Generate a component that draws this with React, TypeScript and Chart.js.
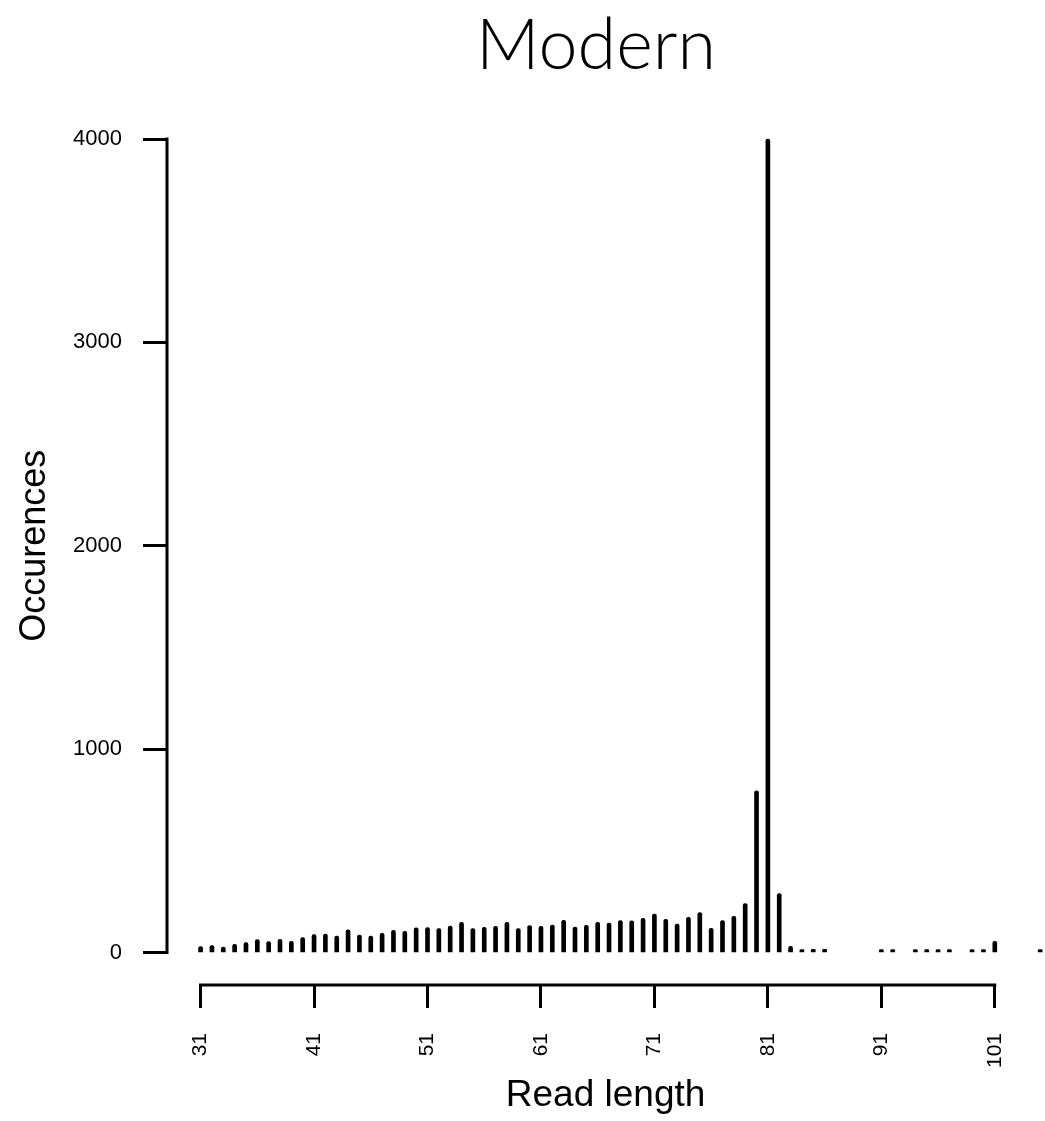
import React, { useEffect, useRef } from "react";
import { Chart, registerables } from "chart.js";

Chart.register(...registerables);

const readLengths: number[] = [
  31, 32, 33, 34, 35, 36, 37, 38, 39, 40,
  41, 42, 43, 44, 45, 46, 47, 48, 49, 50,
  51, 52, 53, 54, 55, 56, 57, 58, 59, 60,
  61, 62, 63, 64, 65, 66, 67, 68, 69, 70,
  71, 72, 73, 74, 75, 76, 77, 78, 79, 80,
  81, 82, 83, 84, 85, 86,
  91, 92, 94, 95, 96, 97, 99, 100, 101, 105,
];

const occurrences: number[] = [
  29, 34, 26, 40, 48, 63, 53, 65, 55, 73,
  88, 91, 81, 111, 85, 80, 94, 109, 104, 121,
  122, 117, 130, 148, 117, 124, 129, 148, 117, 132,
  129, 135, 158, 125, 134, 148, 145, 157, 155, 168,
  189, 163, 139, 173, 196, 119, 157, 178, 240, 795,
  4000, 290, 30, 8, 15, 15,
  5, 5, 5, 5, 5, 12, 5, 5, 55, 5,
];

const xTickValues: number[] = [31, 41, 51, 61, 71, 81, 91, 101];
const yTickValues: number[] = [0, 1000, 2000, 3000, 4000];

const titleText = "Modern";
const xTitle = "Read length";
const yTitle = "Occurences";

const W = 1045;
const H = 1121;

export default function App() {
  const canvasRef = useRef<HTMLCanvasElement | null>(null);

  useEffect(() => {
    if (!canvasRef.current) return;

    const axisLines = {
      id: "rAxisLines",
      afterDraw(chart: any) {
        const { ctx, chartArea, scales } = chart;
        const xs = scales.x;
        const ys = scales.y;
        ctx.save();
        ctx.strokeStyle = "#000";
        ctx.lineWidth = 3;
        ctx.lineCap = "square";
        ctx.beginPath();
        ctx.moveTo(chartArea.left, ys.getPixelForValue(yTickValues[0]));
        ctx.lineTo(chartArea.left, ys.getPixelForValue(yTickValues[yTickValues.length - 1]));
        ctx.moveTo(xs.getPixelForValue(xTickValues[0]), chartArea.bottom);
        ctx.lineTo(xs.getPixelForValue(xTickValues[xTickValues.length - 1]), chartArea.bottom);
        ctx.stroke();
        ctx.restore();
      },
    };

    const chart = new Chart(canvasRef.current, {
      type: "bar",
      data: {
        datasets: [
          {
            data: readLengths.map((x, i) => ({ x, y: occurrences[i] })),
            backgroundColor: "#000",
            borderWidth: 0,
            barThickness: 4,
            borderRadius: 2,
            minBarLength: 3,
          },
        ],
      },
      options: {
        responsive: false,
        animation: false,
        devicePixelRatio: 1,
        layout: { padding: { left: 66, right: -81, top: 0, bottom: 0 } },
        plugins: {
          legend: { display: false },
          tooltip: { enabled: false },
          title: {
            display: true,
            text: titleText,
            fullSize: true,
            color: "#000",
            font: { family: "Lato", size: 70, weight: "300", lineHeight: 1.2 },
            padding: { top: 4, bottom: 18.5 },
          },
        },
        scales: {
          x: {
            type: "linear",
            min: 28.04,
            max: 105.35,
            offset: false,
            border: { display: false },
            grid: {
              offset: false,
              drawOnChartArea: false,
              drawTicks: true,
              tickLength: 23,
              tickWidth: 3,
              tickColor: "#000",
              color: "#000",
            },
            afterBuildTicks: (scale: any) => {
              scale.ticks = xTickValues.map((v) => ({ value: v }));
            },
            afterFit: (scale: any) => {
              scale.height = 136;
            },
            ticks: {
              autoSkip: false,
              minRotation: 90,
              maxRotation: 90,
              padding: 25,
              color: "#000",
              font: { family: "Liberation Sans", size: 21 },
              callback: (v: any) => String(v),
            },
            title: {
              display: true,
              text: xTitle,
              color: "#000",
              font: { family: "Liberation Sans", size: 37, lineHeight: 1.2 },
              padding: { top: 0, bottom: 3 },
            },
          },
          y: {
            type: "linear",
            min: -160,
            max: 4160,
            border: { display: false },
            grid: {
              drawOnChartArea: false,
              drawTicks: true,
              tickLength: 24,
              tickWidth: 3,
              tickColor: "#000",
              color: "#000",
            },
            afterBuildTicks: (scale: any) => {
              scale.ticks = yTickValues.map((v) => ({ value: v }));
            },
            afterFit: (scale: any) => {
              scale.width = 101;
            },
            ticks: {
              padding: 21,
              color: "#000",
              font: { family: "Liberation Sans", size: 22 },
              callback: (v: any) => String(v),
            },
            title: {
              display: true,
              text: yTitle,
              color: "#000",
              font: { family: "Liberation Sans", size: 36, lineHeight: 1.2 },
              padding: { top: -52.6, bottom: 0 },
            },
          },
        },
      },
      plugins: [axisLines],
    });

    return () => chart.destroy();
  }, []);

  return (
    <div style={{ position: "fixed", left: 0, top: 0, width: W, height: H, background: "#fff" }}>
      <canvas ref={canvasRef} width={W} height={H} style={{ width: W, height: H, display: "block" }} />
    </div>
  );
}
